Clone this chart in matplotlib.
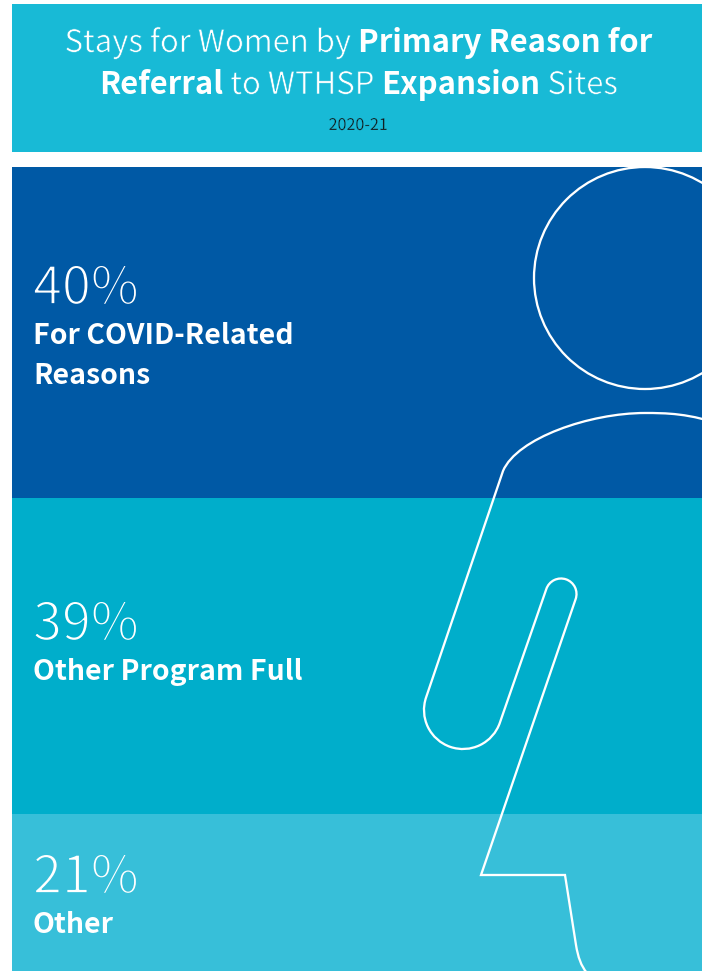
import matplotlib
matplotlib.use("Agg")
import matplotlib.patheffects as pe
import matplotlib.pyplot as plt
from matplotlib.patches import Circle, PathPatch, Rectangle
from matplotlib.path import Path
from matplotlib.transforms import Affine2D

WIDTH, HEIGHT = 702, 971
FONT = "Noto Sans CJK SC"

shares = [40, 39, 21]
share_labels = ["40%", "39%", "21%"]
reasons = [["For COVID-Related", "Reasons"], ["Other Program Full"], ["Other"]]
band_colors = ["#0059A5", "#00AECB", "#37BFD9"]
header_color = "#18BAD6"

title_lines = [
    [("Stays for Women by ", "light"), ("Primary Reason for", "bold")],
    [("Referral", "bold"), (" to WTHSP ", "light"), ("Expansion", "bold"), (" Sites", "light")],
]
year_label = "2020-21"


def thinned(background, amount):
    # the font has no light cut, so eat into the regular glyphs with a stroke in the background colour
    return [pe.Stroke(linewidth=amount, foreground=background)]


def draw_runs(ax, fig, runs, center_x, baseline, size):
    # lay mixed-weight pieces side by side, centred as one line
    renderer = fig.canvas.get_renderer()
    items = []
    for s, w in runs:
        t = ax.text(0, baseline, s.replace(" ", "\u00a0"), color="white", fontsize=size, family=FONT,
                    weight="bold" if w == "bold" else "regular", va="baseline", ha="left")
        if w == "light":
            t.set_path_effects(thinned(header_color, 0.45))
        items.append(t)
    widths = [t.get_window_extent(renderer).width for t in items]
    x = center_x - sum(widths) / 2
    for t, w in zip(items, widths):
        t.set_x(x)
        x += w


def arc_points(cx, cy, r, a1, a2):
    # circular arc as bezier segments, joined on to the previous vertex with a line
    arc = Path.arc(min(a1, a2), max(a1, a2))
    pts = Affine2D().scale(r).translate(cx, cy).transform(arc.vertices)
    codes = list(arc.codes)
    if a1 > a2:
        pts = pts[::-1]
    codes[0] = Path.LINETO
    return [(tuple(p), c) for p, c in zip(pts, codes)]


fig = plt.figure(figsize=(WIDTH / 100, HEIGHT / 100), dpi=100, facecolor="white")

# stacked bands, 8.1 px per percent, running off the bottom edge
px_per_pct = 8.1
top_pad = 7
bars = fig.add_axes([12 / WIDTH, 0, 690 / WIDTH, (HEIGHT - 167) / HEIGHT])
bars.set_facecolor(band_colors[0])
bars.set_xlim(0, 1)
bars.set_ylim((HEIGHT - 167 - top_pad) / px_per_pct, -top_pad / px_per_pct)
bars.set_xticks([])
bars.set_yticks([])
for spine in bars.spines.values():
    spine.set_visible(False)
start = 0
for share, color in zip(shares, band_colors):
    bars.bar(0.5, share, width=1, bottom=start, color=color, linewidth=0)
    start += share

# overlay in pixel coordinates for header, text and the figure outline
ax = fig.add_axes([0, 0, 1, 1])
ax.set_xlim(0, WIDTH)
ax.set_ylim(HEIGHT, 0)
ax.axis("off")
ax.patch.set_alpha(0)

ax.add_patch(Rectangle((12, 4), 690, 148, color=header_color, linewidth=0))
draw_runs(ax, fig, title_lines[0], 358.5, 52, 22.35)
draw_runs(ax, fig, title_lines[1], 358.5, 94, 22.35)
ax.text(358, 130, year_label, color="#111111", fontsize=11.6, family=FONT, ha="center", va="baseline",
        path_effects=thinned(header_color, 0.25))

share_baselines = [304, 640, 893]
for label, lines, y, band in zip(share_labels, reasons, share_baselines, band_colors):
    ax.text(33, y, label, color="white", fontsize=37.5, family=FONT, va="baseline",
            path_effects=thinned(band, 1.25))
    for i, line in enumerate(lines):
        ax.text(33, y + 40 + 40 * i, line, color="white", fontsize=20.5, family=FONT, weight="bold", va="baseline")

# person outline: head plus body with bent arm
outline = dict(fill=False, edgecolor="white", linewidth=1.65)
ax.add_patch(Circle((645, 278), 111, **outline))
M, L, C4 = Path.MOVETO, Path.LINETO, Path.CURVE4
body = [
    ((725, 426), M),
    ((690, 413), C4), ((665, 413), C4), ((645, 413), C4),
    ((590, 413), C4), ((517, 438), C4), ((503, 471), C4),
]
body += arc_points(463, 710, 39, 199, 19)
body += arc_points(561, 594, 15.5, 199, 379)
body += [
    ((481, 875), L),
    ((565, 875), L),
    ((576, 945), L),
    ((578, 957), C4), ((581, 966), C4), ((587, 973), C4),
]
ax.add_patch(PathPatch(Path([p for p, _ in body], [c for _, c in body]), **outline))

fig.savefig("out.png", dpi=100)
